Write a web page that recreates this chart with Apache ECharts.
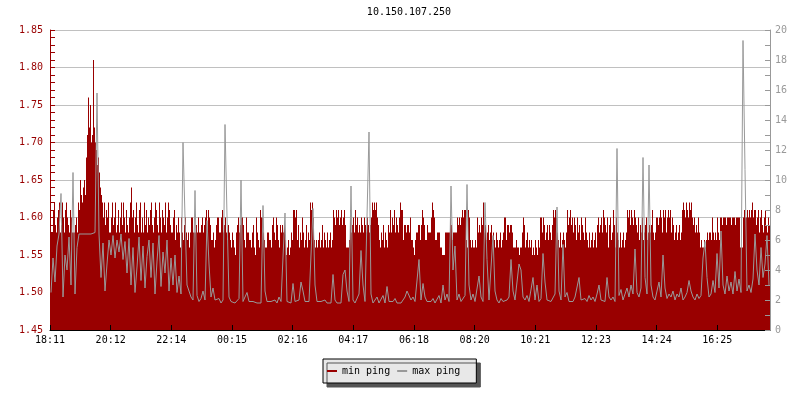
<!DOCTYPE html>
<html><head><meta charset="utf-8">
<script src="https://cdn.jsdelivr.net/npm/echarts@6/dist/echarts.min.js"></script>
<style>html,body{margin:0;padding:0;background:#fff}#c{width:800px;height:400px}</style>
</head><body><div id="c"></div>
<script>
const chartTitle = '10.150.107.250';
const tickLabels = ['18:11','20:12','22:14','00:15','02:16','04:17','06:18','08:20','10:21','12:23','14:24','16:25'];
const seriesNames = ['min ping', 'max ping'];
// min ping (left axis), one sample every 2 minutes
const minPing = [
1.60,1.58,1.58,1.61,1.62,1.59,1.58,1.60,1.61,1.62,1.58,1.59,1.62,1.60,1.58,1.61,1.62,1.60,1.59,1.58,
1.61,1.60,1.58,1.58,1.58,1.59,1.60,1.58,1.62,1.61,1.65,1.63,1.62,1.64,1.65,1.63,1.68,1.71,1.76,1.72,
1.75,1.70,1.71,1.81,1.72,1.70,1.69,1.67,1.68,1.66,1.64,1.63,1.62,1.60,1.62,1.59,1.61,1.60,1.62,1.58,
1.58,1.60,1.62,1.59,1.60,1.62,1.58,1.59,1.61,1.58,1.60,1.62,1.59,1.62,1.60,1.58,1.61,1.59,1.58,1.60,
1.62,1.64,1.60,1.61,1.58,1.60,1.62,1.59,1.58,1.61,1.62,1.58,1.60,1.58,1.62,1.59,1.61,1.58,1.60,1.59,
1.61,1.62,1.59,1.58,1.60,1.62,1.61,1.59,1.58,1.62,1.60,1.58,1.61,1.60,1.59,1.62,1.58,1.60,1.62,1.61,
1.59,1.58,1.58,1.60,1.61,1.57,1.59,1.58,1.60,1.58,1.56,1.60,1.58,1.57,1.59,1.60,1.58,1.57,1.58,1.56,
1.58,1.60,1.60,1.58,1.58,1.58,1.59,1.58,1.60,1.58,1.58,1.59,1.60,1.58,1.59,1.60,1.61,1.58,1.61,1.60,
1.59,1.57,1.57,1.58,1.56,1.57,1.59,1.60,1.60,1.58,1.58,1.60,1.61,1.58,1.59,1.60,1.58,1.57,1.59,1.58,
1.57,1.56,1.58,1.57,1.56,1.55,1.58,1.59,1.60,1.58,1.59,1.60,1.60,1.59,1.57,1.56,1.60,1.58,1.58,1.57,
1.57,1.56,1.58,1.59,1.56,1.55,1.60,1.58,1.57,1.56,1.61,1.60,1.60,1.58,1.57,1.56,1.56,1.58,1.58,1.57,
1.57,1.56,1.59,1.60,1.58,1.57,1.60,1.59,1.57,1.56,1.59,1.58,1.59,1.58,1.59,1.57,1.55,1.56,1.57,1.55,
1.56,1.58,1.57,1.61,1.61,1.60,1.61,1.57,1.59,1.56,1.58,1.57,1.60,1.58,1.56,1.57,1.59,1.56,1.58,1.57,
1.62,1.61,1.62,1.60,1.57,1.56,1.57,1.56,1.57,1.58,1.56,1.57,1.59,1.56,1.58,1.57,1.56,1.58,1.56,1.57,
1.58,1.56,1.57,1.61,1.60,1.59,1.61,1.60,1.61,1.59,1.60,1.61,1.59,1.60,1.61,1.59,1.56,1.56,1.56,1.57,
1.61,1.58,1.59,1.60,1.58,1.61,1.59,1.60,1.58,1.59,1.58,1.60,1.59,1.58,1.60,1.59,1.58,1.60,1.59,1.58,
1.59,1.60,1.62,1.61,1.62,1.61,1.62,1.60,1.59,1.57,1.56,1.58,1.57,1.59,1.56,1.58,1.57,1.56,1.59,1.58,
1.61,1.58,1.60,1.59,1.61,1.58,1.60,1.59,1.58,1.60,1.62,1.61,1.61,1.57,1.59,1.59,1.58,1.59,1.59,1.58,
1.60,1.57,1.57,1.56,1.55,1.57,1.58,1.58,1.59,1.59,1.57,1.59,1.61,1.60,1.59,1.57,1.57,1.59,1.58,1.58,
1.58,1.60,1.62,1.61,1.60,1.57,1.57,1.58,1.58,1.58,1.56,1.56,1.55,1.55,1.55,1.58,1.58,1.58,1.58,1.58,
1.60,1.59,1.57,1.58,1.58,1.58,1.58,1.60,1.59,1.60,1.59,1.60,1.61,1.60,1.61,1.61,1.57,1.56,1.61,1.60,
1.57,1.56,1.57,1.56,1.56,1.57,1.56,1.60,1.58,1.59,1.58,1.60,1.59,1.62,1.58,1.59,1.57,1.58,1.59,1.57,
1.58,1.59,1.57,1.58,1.57,1.56,1.58,1.57,1.56,1.57,1.58,1.56,1.57,1.58,1.60,1.60,1.57,1.59,1.59,1.58,
1.59,1.59,1.58,1.56,1.56,1.56,1.57,1.56,1.56,1.55,1.56,1.56,1.58,1.60,1.59,1.56,1.57,1.58,1.56,1.57,
1.56,1.57,1.55,1.56,1.55,1.57,1.56,1.55,1.57,1.56,1.60,1.60,1.58,1.60,1.59,1.57,1.58,1.59,1.57,1.59,
1.58,1.57,1.59,1.61,1.60,1.61,1.60,1.58,1.57,1.56,1.58,1.56,1.57,1.58,1.57,1.56,1.58,1.61,1.59,1.60,
1.61,1.59,1.60,1.58,1.60,1.59,1.57,1.60,1.58,1.59,1.57,1.60,1.59,1.58,1.57,1.60,1.58,1.57,1.56,1.58,
1.56,1.57,1.58,1.56,1.57,1.58,1.56,1.59,1.60,1.58,1.59,1.60,1.58,1.61,1.60,1.59,1.58,1.60,1.56,1.59,
1.60,1.57,1.58,1.61,1.59,1.56,1.60,1.58,1.57,1.56,1.58,1.56,1.57,1.58,1.56,1.57,1.58,1.61,1.60,1.61,
1.59,1.61,1.60,1.59,1.61,1.60,1.59,1.58,1.60,1.57,1.59,1.58,1.60,1.57,1.58,1.59,1.60,1.57,1.58,1.59,
1.58,1.59,1.61,1.58,1.57,1.58,1.60,1.60,1.59,1.60,1.61,1.60,1.58,1.61,1.60,1.61,1.58,1.60,1.61,1.60,
1.61,1.58,1.60,1.59,1.57,1.58,1.59,1.57,1.58,1.59,1.57,1.58,1.61,1.62,1.61,1.60,1.62,1.61,1.60,1.62,
1.61,1.62,1.60,1.59,1.60,1.58,1.59,1.58,1.60,1.58,1.56,1.57,1.56,1.56,1.57,1.56,1.57,1.58,1.57,1.58,
1.58,1.57,1.60,1.58,1.57,1.58,1.57,1.60,1.58,1.57,1.60,1.60,1.59,1.60,1.60,1.60,1.59,1.60,1.60,1.60,
1.60,1.59,1.60,1.60,1.60,1.59,1.60,1.60,1.60,1.60,1.56,1.56,1.56,1.60,1.61,1.60,1.60,1.61,1.60,1.61,
1.60,1.61,1.62,1.60,1.61,1.61,1.59,1.60,1.61,1.58,1.60,1.61,1.59,1.58,1.60,1.61,1.59,1.58,1.60,1.59
];
// max ping (right axis), one sample every 4 minutes
const maxPing = [
2.5,4.8,3.2,5.6,6.4,9.1,2.2,5.0,4.0,6.2,
3.0,10.5,2.4,5.5,6.4,6.5,6.4,6.5,6.4,6.5,
6.4,6.5,6.5,15.8,6.4,3.5,5.8,2.6,4.4,6.0,
5.0,6.3,4.8,6.0,5.2,6.4,4.7,5.9,3.8,6.1,
3.0,5.5,2.5,4.2,6.2,3.3,5.6,2.8,4.9,6.0,
3.5,5.8,2.4,4.6,6.3,2.9,5.2,3.8,6.0,2.6,
4.8,3.0,5.0,2.5,3.6,2.4,12.5,7.5,3.0,2.6,
2.2,2.0,9.3,2.3,1.9,2.1,2.6,2.0,7.3,4.4,
2.2,2.8,2.0,1.9,2.1,1.8,2.0,13.7,7.6,2.2,
1.9,2.0,1.8,1.9,2.1,10.0,1.9,1.8,2.5,1.9,
1.8,1.9,2.0,1.8,1.9,1.8,8.3,2.6,1.9,1.8,
1.9,1.8,2.0,1.8,2.2,1.9,1.8,7.8,1.9,1.8,
1.8,3.1,1.9,1.8,2.0,3.2,2.6,1.9,1.8,1.9,
2.0,8.1,3.0,1.9,1.8,1.9,1.8,2.0,1.8,1.9,
1.8,3.7,2.0,1.8,1.9,1.8,3.7,4.0,2.6,1.9,
9.6,2.0,1.8,1.9,2.4,5.3,3.0,1.9,1.8,13.2,
2.4,1.8,1.9,2.2,1.8,1.9,2.3,1.8,2.9,1.9,
1.8,1.9,2.1,1.8,1.9,1.8,2.0,2.2,2.6,2.5,
2.0,2.2,1.9,1.8,4.7,2.0,3.1,2.2,1.9,2.0,
1.9,2.1,1.8,1.9,2.3,1.8,3.0,2.0,2.4,1.9,
9.6,4.0,5.6,2.0,2.4,1.9,2.0,2.3,9.7,3.0,
2.0,2.4,1.9,2.0,3.6,2.2,1.9,8.5,4.7,2.0,
1.9,6.3,2.6,2.0,1.8,2.1,1.9,1.8,2.0,2.2,
4.7,2.6,2.0,1.9,4.4,4.0,2.2,2.0,2.3,1.9,
1.9,3.5,2.0,3.0,1.9,2.1,5.1,3.2,2.0,1.9,
1.9,2.0,2.4,8.2,2.6,2.0,5.7,2.2,2.5,1.9,
2.0,1.9,2.2,2.1,3.5,2.0,1.9,2.1,1.9,2.3,
2.0,2.2,1.9,2.4,3.0,2.0,2.1,1.9,3.5,2.2,
2.0,2.2,1.9,12.1,2.3,2.7,2.0,2.4,2.8,2.2,
3.0,2.4,5.4,2.5,2.2,2.8,11.5,3.5,2.4,11.0,
3.0,2.2,2.0,2.6,3.2,2.2,5.0,2.8,2.1,2.4,
2.2,2.6,2.0,2.4,2.2,2.8,2.0,2.2,2.5,3.3,
2.6,2.2,2.0,2.4,2.1,2.3,4.8,5.9,3.5,2.2,
2.4,3.3,2.5,5.1,2.8,6.6,3.0,2.4,3.6,2.6,
3.2,2.4,3.9,2.6,3.4,2.5,19.3,10.7,2.6,3.0,
2.5,3.4,6.4,4.0,3.0,5.5,3.5,4.4,6.3,3.0
];

const UNITS_PER_MIN = 3;             // x axis unit = 20 s
const MIN_STEP = 2 * UNITS_PER_MIN;  // min ping sampling (2 min)
const MAX_STEP = 4 * UNITS_PER_MIN;  // max ping sampling (4 min)
const TICK = 364;                    // 2h01m20s between time labels
const RED = '#990000';
const GRAY = '#999999';
const FONT = 'DejaVu Sans Mono';

const chart = echarts.init(document.getElementById('c'), null, {renderer: 'canvas'});
const maxX = minPing.length * MIN_STEP;   // 24 h

chart.setOption({
  animation: false,
  backgroundColor: '#ffffff',
  title: {
    text: chartTitle, left: 409, top: 7, padding: 0, textAlign: 'center',
    textStyle: {fontFamily: FONT, fontSize: 10, fontWeight: 'normal', color: '#000'}
  },
  grid: {left: 50, right: 30, top: 30, bottom: 70, containLabel: false},
  legend: {
    data: seriesNames,
    left: 323, top: 359,
    padding: [7, 16, 7, 4],
    itemGap: 7, itemWidth: 10, itemHeight: 2, icon: 'rect',
    backgroundColor: '#e8e8e8', borderColor: '#000', borderWidth: 1,
    shadowColor: '#555555', shadowOffsetX: 4, shadowOffsetY: 4, shadowBlur: 0,
    textStyle: {fontFamily: FONT, fontSize: 10, color: '#000'},
    selectedMode: false
  },
  xAxis: {
    type: 'value', min: 0, max: maxX, interval: TICK, z: 10,
    axisLine: {show: true, lineStyle: {color: '#000', width: 1}},
    axisTick: {show: true, inside: true, length: 5, lineStyle: {color: '#000'}},
    axisLabel: {
      fontFamily: FONT, fontSize: 10, color: '#000', margin: 5, showMaxLabel: false,
      formatter: function (v) {
        const k = Math.round(v / TICK);
        return (Math.abs(v - k * TICK) < 1e-6 && tickLabels[k]) ? tickLabels[k] : '';
      }
    },
    splitLine: {show: false}
  },
  yAxis: [
    {
      type: 'value', position: 'left', min: 1.45, max: 1.85, interval: 0.05,
      axisLine: {show: true, lineStyle: {color: RED}},
      axisTick: {show: true, inside: true, length: 5, lineStyle: {color: RED}},
      minorTick: {show: true, splitNumber: 5, length: 5, lineStyle: {color: RED}},
      axisLabel: {fontFamily: FONT, fontSize: 10, color: RED, margin: 7,
        formatter: v => v.toFixed(2)},
      splitLine: {show: true, lineStyle: {color: '#c0c0c0', width: 1}}
    },
    {
      type: 'value', position: 'right', min: 0, max: 20, interval: 2, z: 10,
      axisLine: {show: true, lineStyle: {color: GRAY}},
      axisTick: {show: true, inside: true, length: 5, lineStyle: {color: GRAY}},
      minorTick: {show: true, splitNumber: 2, length: 5, lineStyle: {color: GRAY}},
      axisLabel: {fontFamily: FONT, fontSize: 10, color: GRAY, margin: 5},
      splitLine: {show: false}
    }
  ],
  series: [
    {
      name: seriesNames[0], type: 'bar', yAxisIndex: 0, barWidth: 1,
      data: minPing.map((v, i) => [(i + 0.5) * MIN_STEP, v]),
      silent: true, color: RED, itemStyle: {color: RED},
      z: 2
    },
    {
      name: seriesNames[1], type: 'line', yAxisIndex: 1,
      data: maxPing.map((v, i) => [(i + 0.5) * MAX_STEP, v]),
      showSymbol: false, symbol: 'none', silent: true,
      color: GRAY, itemStyle: {color: GRAY},
      lineStyle: {width: 1, color: GRAY},
      z: 3
    }
  ]
});
</script>
</body></html>
